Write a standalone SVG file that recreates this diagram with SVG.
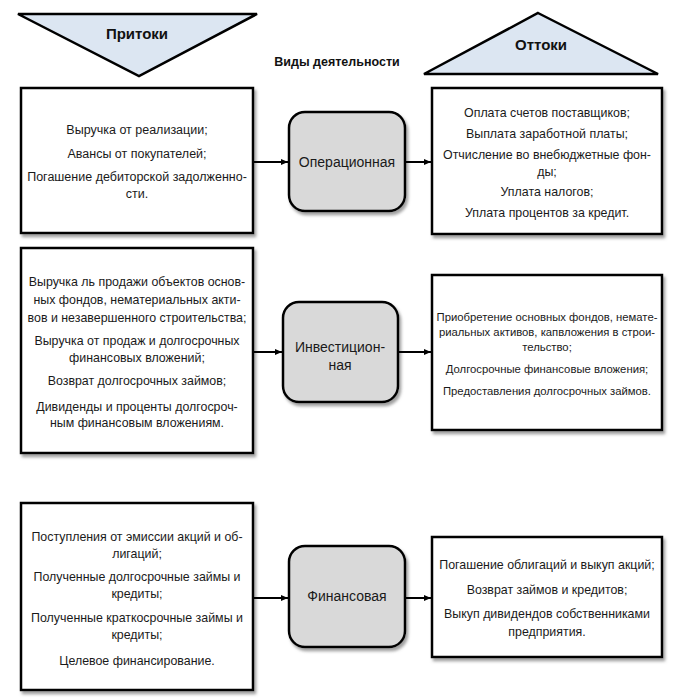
<svg xmlns="http://www.w3.org/2000/svg" width="685" height="700" viewBox="0 0 685 700">
<defs>
<filter id="sh" x="-5%" y="-5%" width="115%" height="115%">
<feDropShadow dx="2" dy="3" stdDeviation="1.5" flood-color="#777" flood-opacity="0.7"/>
</filter>
<marker id="ah" markerWidth="8" markerHeight="8" refX="7" refY="4" orient="auto" markerUnits="userSpaceOnUse">
<path d="M0,1 L7,4 L0,7 Z" fill="#000"/>
</marker>
</defs>
<style>
.tri{fill:#dce6f2;stroke:#000;stroke-width:2.5;stroke-linejoin:miter}
.hd{font-family:"Liberation Sans",Arial,sans-serif;font-weight:bold;font-size:15px;fill:#111;text-anchor:middle}
.sub{font-family:"Liberation Sans",Arial,sans-serif;font-weight:bold;font-size:12.5px;fill:#111;text-anchor:middle}
.box{fill:#fff;stroke:#000;stroke-width:2.5;filter:url(#sh)}
.node{fill:#d9d9d9;stroke:#000;stroke-width:2.5;filter:url(#sh)}
.t{font-family:"Liberation Sans",Arial,sans-serif;font-size:12.4px;fill:#1a1a1a;text-anchor:middle}
.tl{font-family:"Liberation Sans",Arial,sans-serif;font-size:12.5px;fill:#1a1a1a;text-anchor:middle}
.ts{font-family:"Liberation Sans",Arial,sans-serif;font-size:11.3px;fill:#1a1a1a;text-anchor:middle}
.nt{font-family:"Liberation Sans",Arial,sans-serif;font-size:14px;fill:#1a1a1a;text-anchor:middle}
.c{stroke:#000;stroke-width:2;fill:none;marker-end:url(#ah)}
</style>

<g id="inflows-header">
<polygon class="tri" points="18,14 257,14 139,76"/>
<text class="hd" x="137" y="39">Притоки</text>
</g>
<g id="outflows-header">
<polygon class="tri" points="538,13 658,74 424,74"/>
<text class="hd" x="541" y="50">Оттоки</text>
</g>
<text class="sub" x="337" y="66">Виды деятельности</text>

<g id="in-operational">
<rect class="box" x="21" y="88" width="232" height="145"/>
<text class="tl" x="137" y="134">Выручка от реализации;</text>
<text class="tl" x="137" y="158">Авансы от покупателей;</text>
<text class="tl" x="137" y="181">Погашение дебиторской задолженно-</text>
<text class="tl" x="137" y="198">сти.</text>
</g>
<g id="operational">
<rect class="node" x="289" y="112" width="116" height="99" rx="16"/>
<text class="nt" x="347" y="167">Операционная</text>
</g>
<g id="out-operational">
<rect class="box" x="432" y="88" width="230" height="146"/>
<text class="t" x="547" y="117" font-size="12.6">Оплата счетов поставщиков;</text>
<text class="t" x="547" y="138" font-size="12.6">Выплата заработной платы;</text>
<text class="t" x="547" y="159" font-size="12.6">Отчисление во внебюджетные фон-</text>
<text class="t" x="547" y="176" font-size="12.6">ды;</text>
<text class="t" x="547" y="196" font-size="12.6">Уплата налогов;</text>
<text class="t" x="547" y="217" font-size="12.6">Уплата процентов за кредит.</text>
</g>

<g id="in-investment">
<rect class="box" x="21" y="248" width="232" height="205"/>
<text class="t" x="137" y="286">Выручка ль продажи объектов основ-</text>
<text class="t" x="137" y="304">ных фондов, нематериальных акти-</text>
<text class="t" x="137" y="322">вов и незавершенного строительства;</text>
<text class="t" x="137" y="345">Выручка от продаж и долгосрочных</text>
<text class="t" x="137" y="362">финансовых вложений;</text>
<text class="t" x="137" y="385">Возврат долгосрочных займов;</text>
<text class="t" x="137" y="411">Дивиденды и проценты долгосроч-</text>
<text class="t" x="137" y="427">ным финансовым вложениям.</text>
</g>
<g id="investment">
<rect class="node" x="283" y="302" width="115" height="100" rx="16"/>
<text class="nt" x="340" y="352">Инвестицион-</text>
<text class="nt" x="340" y="370">ная</text>
</g>
<g id="out-investment">
<rect class="box" x="432" y="275" width="230" height="155"/>
<text class="ts" x="547" y="321">Приобретение основных фондов, немате-</text>
<text class="ts" x="547" y="336">риальных активов, капвложения в строи-</text>
<text class="ts" x="547" y="351">тельство;</text>
<text class="ts" x="547" y="373">Долгосрочные финансовые вложения;</text>
<text class="ts" x="547" y="395">Предоставления долгосрочных займов.</text>
</g>

<g id="in-financial">
<rect class="box" x="21" y="503" width="232" height="187"/>
<text class="t" x="137" y="541">Поступления от эмиссии акций и об-</text>
<text class="t" x="137" y="558">лигаций;</text>
<text class="t" x="137" y="581">Полученные долгосрочные займы и</text>
<text class="t" x="137" y="598">кредиты;</text>
<text class="t" x="137" y="622">Полученные краткосрочные займы и</text>
<text class="t" x="137" y="639">кредиты;</text>
<text class="t" x="137" y="665">Целевое финансирование.</text>
</g>
<g id="financial">
<rect class="node" x="289" y="546" width="116" height="101" rx="16"/>
<text class="nt" x="347" y="601" font-size="13.6">Финансовая</text>
</g>
<g id="out-financial">
<rect class="box" x="432" y="537" width="230" height="120"/>
<text class="t" x="547" y="569" font-size="12.6">Погашение облигаций и выкуп акций;</text>
<text class="t" x="547" y="594" font-size="12.6">Возврат займов и кредитов;</text>
<text class="t" x="547" y="618" font-size="12.6">Выкуп дивидендов собственниками</text>
<text class="t" x="547" y="636" font-size="12.6">предприятия.</text>
</g>

<g id="connectors">
<line class="c" x1="254" y1="162" x2="288" y2="162"/>
<line class="c" x1="406" y1="162" x2="431" y2="162"/>
<line class="c" x1="254" y1="352" x2="282" y2="352"/>
<line class="c" x1="399" y1="352" x2="431" y2="352"/>
<line class="c" x1="254" y1="598" x2="288" y2="598"/>
<line class="c" x1="406" y1="598" x2="431" y2="598"/>
</g>
</svg>
